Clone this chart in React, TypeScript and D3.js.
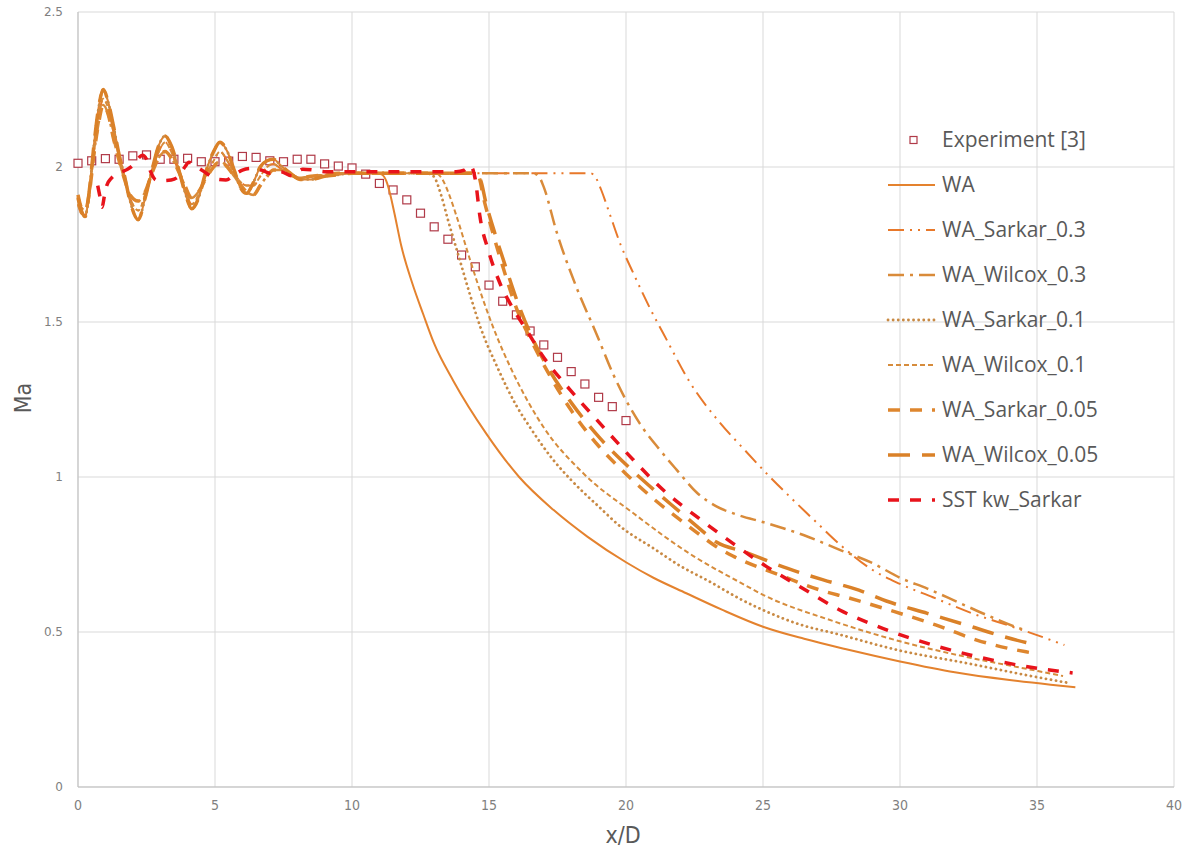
import React from "react";
import * as d3 from "d3";

// ---------- DATA ----------
const xTicks = [0, 5, 10, 15, 20, 25, 30, 35, 40];
const yTicks = [0, 0.5, 1, 1.5, 2, 2.5];

const expX = [0, 0.5, 1, 1.5, 2, 2.5, 3, 3.5, 4, 4.5, 5, 5.5, 6, 6.5, 7, 7.5, 8, 8.5, 9, 9.5, 10, 10.5, 11, 11.5, 12, 12.5, 13, 13.5, 14, 14.5, 15, 15.5, 16, 16.5, 17, 17.5, 18, 18.5, 19, 19.5, 20];
const expY = [2.012, 2.02, 2.027, 2.025, 2.036, 2.039, 2.025, 2.025, 2.028, 2.017, 2.017, 2.019, 2.034, 2.031, 2.02, 2.017, 2.025, 2.025, 2.01, 2.003, 1.997, 1.977, 1.947, 1.926, 1.894, 1.851, 1.807, 1.767, 1.716, 1.678, 1.619, 1.567, 1.523, 1.471, 1.426, 1.386, 1.34, 1.3, 1.257, 1.227, 1.182];

// near-field (shock cell) part shared by the WA family, three amplitude variants
const nearX = [0, 0.12, 0.26, 0.42, 0.58, 0.75, 0.92, 1.1, 1.3, 1.5, 1.7, 1.9, 2.2, 2.45, 2.7, 2.95, 3.18, 3.4, 3.65, 3.9, 4.15, 4.4, 4.65, 4.95, 5.18, 5.45, 5.7, 5.95, 6.15, 6.4, 6.65, 6.9, 7.13, 7.4, 7.75, 8.1, 8.5, 9.0, 9.5, 10.0];
const nearA = [1.9, 1.86, 1.84, 1.93, 2.07, 2.19, 2.25, 2.21, 2.13, 2.04, 1.97, 1.89, 1.83, 1.9, 1.99, 2.07, 2.1, 2.07, 2.0, 1.92, 1.865, 1.9, 1.98, 2.05, 2.08, 2.05, 1.99, 1.93, 1.915, 1.95, 2.0, 2.02, 2.025, 2.005, 1.98, 1.96, 1.96, 1.97, 1.975, 1.98];
const nearB = [1.88, 1.85, 1.845, 1.92, 2.05, 2.16, 2.22, 2.19, 2.11, 2.03, 1.96, 1.9, 1.86, 1.91, 1.99, 2.05, 2.08, 2.05, 1.99, 1.93, 1.88, 1.91, 1.97, 2.02, 2.05, 2.02, 1.98, 1.95, 1.94, 1.94, 1.97, 2.0, 2.01, 1.995, 1.975, 1.965, 1.97, 1.975, 1.98, 1.98];
const nearC = [1.91, 1.87, 1.86, 1.92, 2.04, 2.14, 2.2, 2.17, 2.09, 2.02, 1.96, 1.91, 1.89, 1.92, 1.98, 2.03, 2.05, 2.03, 1.99, 1.94, 1.9, 1.92, 1.96, 2.0, 2.02, 2.0, 1.97, 1.94, 1.92, 1.91, 1.94, 1.97, 1.99, 1.99, 1.975, 1.965, 1.97, 1.975, 1.98, 1.98];

const waX = [10.5, 10.9, 11.1, 11.25, 11.4, 11.55, 11.8, 12.2, 12.6, 13.0, 13.7, 14.9, 16.1, 17.35, 18.6, 20.0, 21.0, 22.2, 23.5, 25.0, 26.5, 28.0, 30.0, 32.0, 34.0, 35.5, 36.4];
const waY = [1.98, 1.98, 1.975, 1.955, 1.91, 1.85, 1.745, 1.625, 1.525, 1.43, 1.31, 1.14, 1.0, 0.894, 0.807, 0.725, 0.675, 0.625, 0.572, 0.517, 0.478, 0.445, 0.405, 0.37, 0.345, 0.33, 0.322];

const sarkar03X = [11, 12, 13, 14, 15, 16, 17, 18, 18.7, 18.9, 19.1, 19.4, 19.8, 20.27, 20.9, 21.5, 22.3, 23.4, 24.3, 25.2, 26.1, 26.9, 27.9, 29.0, 30.0, 31.2, 32.7, 34.0, 35.0, 36.0];
const sarkar03Y = [1.98, 1.98, 1.98, 1.98, 1.98, 1.98, 1.98, 1.98, 1.98, 1.965, 1.925, 1.85, 1.75, 1.657, 1.54, 1.44, 1.31, 1.178, 1.09, 1.005, 0.926, 0.858, 0.775, 0.7, 0.655, 0.612, 0.558, 0.52, 0.49, 0.458];

const wilcox03X = [11, 12, 13, 14, 15, 16, 16.6, 16.85, 17.0, 17.47, 18.2, 18.93, 19.54, 20.5, 21.24, 21.85, 22.58, 23.3, 24.0, 25.1, 26.5, 27.8, 29.0, 30.0, 31.0, 32.07, 33.16, 34.26, 34.6];
const wilcox03Y = [1.98, 1.98, 1.98, 1.98, 1.98, 1.98, 1.98, 1.965, 1.935, 1.79, 1.61, 1.46, 1.33, 1.173, 1.087, 1.023, 0.95, 0.905, 0.88, 0.852, 0.812, 0.765, 0.722, 0.675, 0.64, 0.598, 0.555, 0.515, 0.505];

const sarkar01X = [10.5, 11.5, 12.5, 12.85, 13.05, 13.25, 13.5, 13.9, 14.3, 14.7, 15.3, 16.0, 16.5, 17.3, 18.0, 19.0, 19.8, 21.0, 22.0, 23.0, 24.2, 25.0, 26.5, 27.6, 30.0, 32.4, 34.9, 36.2];
const sarkar01Y = [1.98, 1.98, 1.98, 1.978, 1.96, 1.91, 1.83, 1.71, 1.59, 1.48, 1.355, 1.23, 1.16, 1.06, 0.99, 0.905, 0.84, 0.77, 0.712, 0.665, 0.605, 0.571, 0.52, 0.496, 0.44, 0.4, 0.356, 0.335];

const wilcox01X = [10.5, 11.5, 12.5, 13.1, 13.3, 13.55, 13.82, 14.31, 14.85, 15.3, 15.77, 16.98, 18.44, 20.27, 22.46, 24.16, 25.0, 27.57, 30.0, 32.4, 34.86, 35.95];
const wilcox01Y = [1.98, 1.98, 1.98, 1.978, 1.96, 1.91, 1.84, 1.7, 1.555, 1.45, 1.356, 1.162, 1.012, 0.883, 0.745, 0.66, 0.62, 0.535, 0.47, 0.42, 0.377, 0.358];

const sarkar005X = [10.5, 11.5, 12.5, 13.5, 14.4, 14.62, 14.8, 15.1, 15.5, 16.0, 16.6, 17.2, 18.0, 19.0, 20.0, 21.0, 22.0, 22.6, 23.3, 23.9, 25.6, 27.2, 28.05, 29.6, 31.3, 32.8, 34.6, 35.0];
const sarkar005Y = [1.98, 1.98, 1.98, 1.98, 1.98, 1.97, 1.9, 1.8, 1.68, 1.545, 1.43, 1.33, 1.215, 1.1, 1.01, 0.93, 0.86, 0.82, 0.775, 0.745, 0.684, 0.632, 0.612, 0.571, 0.523, 0.474, 0.436, 0.43];

const wilcox005X = [10.5, 11.5, 12.5, 13.5, 14.45, 14.68, 14.9, 15.2, 15.6, 16.1, 16.6, 17.2, 18.0, 19.0, 20.0, 21.0, 22.0, 22.6, 23.3, 24.3, 25.9, 27.2, 28.5, 29.5, 31.0, 32.4, 33.6, 34.6, 34.9];
const wilcox005Y = [1.98, 1.98, 1.98, 1.98, 1.98, 1.96, 1.88, 1.79, 1.68, 1.55, 1.445, 1.345, 1.24, 1.13, 1.04, 0.96, 0.885, 0.84, 0.79, 0.759, 0.705, 0.668, 0.635, 0.6, 0.56, 0.523, 0.49, 0.466, 0.46];

const sstX = [0.72, 0.8, 0.88, 0.96, 1.05, 1.23, 1.5, 1.75, 2.0, 2.2, 2.35, 2.5, 2.65, 2.85, 3.1, 3.4, 3.65, 3.9, 4.05, 4.3, 4.6, 4.85, 5.1, 5.4, 5.7, 6.0, 6.3, 6.7, 7.0, 7.4, 7.8, 8.2, 8.6, 9.0, 9.5, 10, 11, 12, 13, 13.8, 14.1, 14.3, 14.42, 14.5, 14.67, 14.98, 15.4, 15.9, 16.37, 16.98, 17.96, 19.05, 20.27, 21.36, 22.58, 23.9, 25.13, 26.35, 27.8, 29.39, 30.97, 32.55, 34.26, 36.3];
const sstY = [1.94, 1.905, 1.87, 1.905, 1.94, 1.965, 1.98, 1.99, 2.005, 2.028, 2.038, 2.025, 1.985, 1.958, 1.956, 1.958, 1.968, 2.0, 2.015, 2.002, 1.985, 1.97, 1.96, 1.958, 1.975, 1.99, 1.995, 1.99, 1.98, 1.985, 1.972, 1.993, 1.99, 1.985, 1.985, 1.985, 1.985, 1.985, 1.985, 1.985, 1.99, 2.005, 1.99, 1.96, 1.84, 1.73, 1.625, 1.54, 1.474, 1.388, 1.281, 1.173, 1.055, 0.958, 0.872, 0.786, 0.711, 0.646, 0.571, 0.511, 0.464, 0.426, 0.394, 0.368];

const seriesNames = ["WA", "WA_Sarkar_0.3", "WA_Wilcox_0.3", "WA_Sarkar_0.1", "WA_Wilcox_0.1", "WA_Sarkar_0.05", "WA_Wilcox_0.05", "SST kw_Sarkar"];

// ---------- STYLES ----------
type Style = { color: string; width: number; dash: string; cap: "butt" | "round" };
const styles: Style[] = [
  { color: "#E4822E", width: 2, dash: "none", cap: "butt" },
  { color: "#E8782A", width: 2, dash: "16 6 2 6 2 6", cap: "butt" },
  { color: "#D98B3A", width: 2.5, dash: "16 6 3 6", cap: "butt" },
  { color: "#C98A44", width: 2.8, dash: "0.1 5", cap: "round" },
  { color: "#D68C3C", width: 2, dash: "5 3", cap: "butt" },
  { color: "#DE862E", width: 3.5, dash: "12 10", cap: "butt" },
  { color: "#DA8128", width: 3.5, dash: "22 12", cap: "butt" },
  { color: "#E8131B", width: 3.5, dash: "11 11", cap: "butt" },
];

const W = 1189;
const H = 856;

export default function App() {
  const x = d3.scaleLinear().domain([0, 40]).range([78, 1174]);
  const y = d3.scaleLinear().domain([0, 2.5]).range([787, 12]);

  const zip = (xs: number[], ys: number[]) => xs.map((v, i) => [v, ys[i]] as [number, number]);
  const seriesData: [number, number][][] = [
    [...zip(nearX, nearA), ...zip(waX, waY)],
    [...zip(nearX, nearB), ...zip(sarkar03X, sarkar03Y)],
    [...zip(nearX, nearC), ...zip(wilcox03X, wilcox03Y)],
    [...zip(nearX, nearA), ...zip(sarkar01X, sarkar01Y)],
    [...zip(nearX, nearB), ...zip(wilcox01X, wilcox01Y)],
    [...zip(nearX, nearC), ...zip(sarkar005X, sarkar005Y)],
    [...zip(nearX, nearA), ...zip(wilcox005X, wilcox005Y)],
    zip(sstX, sstY),
  ];

  const line = d3
    .line<[number, number]>()
    .x((d) => x(d[0]))
    .y((d) => y(d[1]))
    .curve(d3.curveMonotoneX);

  const legX = 888;
  const legTextX = 942;
  const legY0 = 140;
  const legDy = 45;

  const narrow = "'Liberation Sans Narrow', 'DejaVu Sans Condensed', 'Open Sans', sans-serif";

  return (
    <svg width={W} height={H} style={{ position: "absolute", left: 0, top: 0, background: "#fff" }}>
      <rect x={0} y={0} width={W} height={H} fill="#fff" />
      {/* grid */}
      {xTicks.map((t) => (
        <line key={"gx" + t} x1={x(t)} x2={x(t)} y1={y(2.5)} y2={y(0)} stroke="#D9D9D9" strokeWidth={1} />
      ))}
      {yTicks.map((t) => (
        <line key={"gy" + t} x1={x(0)} x2={x(40)} y1={y(t)} y2={y(t)} stroke="#D9D9D9" strokeWidth={1} />
      ))}
      {/* axes */}
      <line x1={x(0)} x2={x(0)} y1={y(2.5)} y2={y(0)} stroke="#BFBFBF" strokeWidth={1} />
      <line x1={x(0)} x2={x(40)} y1={y(0)} y2={y(0)} stroke="#BFBFBF" strokeWidth={1} />

      {/* tick labels */}
      {yTicks.map((t) => (
        <text key={"ty" + t} x={63} y={y(t) + 4} textAnchor="end" fontSize={12} fill="#7F7F7F" fontFamily="'DejaVu Sans', sans-serif">
          {String(t)}
        </text>
      ))}
      {xTicks.map((t) => (
        <text key={"tx" + t} x={x(t)} y={810} textAnchor="middle" fontSize={14} fill="#7F7F7F" fontFamily={narrow} style={{ fontStretch: "condensed" }}>
          {String(t)}
        </text>
      ))}
      <text x={623} y={843} textAnchor="middle" fontSize={23} fill="#595959" fontFamily={narrow} style={{ fontStretch: "condensed" }}>
        x/D
      </text>
      <text transform={`translate(31,398) rotate(-90)`} textAnchor="middle" fontSize={23} fill="#595959" fontFamily={narrow} style={{ fontStretch: "condensed" }}>
        Ma
      </text>

      {/* experiment markers */}
      {expX.map((v, i) => (
        <rect key={"e" + i} x={x(v) - 4} y={y(expY[i]) - 4} width={8} height={8} fill="#fff" stroke="#B03A48" strokeWidth={1.2} />
      ))}

      {/* lines */}
      {seriesData.map((d, i) => (
        <path
          key={"s" + i}
          d={line(d) || ""}
          fill="none"
          stroke={styles[i].color}
          strokeWidth={styles[i].width}
          strokeDasharray={styles[i].dash}
          strokeLinecap={styles[i].cap}
          strokeLinejoin="round"
        />
      ))}

      {/* legend */}
      <rect x={legX + 22} y={legY0 - 3.5} width={7} height={7} fill="#fff" stroke="#B03A48" strokeWidth={1.2} />
      <text x={legTextX} y={legY0 + 7} fontSize={21} fill="#595959" fontFamily="'Open Sans', sans-serif">
        Experiment [3]
      </text>
      {seriesNames.map((n, i) => {
        const ly = legY0 + legDy * (i + 1);
        return (
          <g key={"l" + i}>
            <line
              x1={legX}
              x2={legX + 47}
              y1={ly}
              y2={ly}
              stroke={styles[i].color}
              strokeWidth={styles[i].width}
              strokeDasharray={styles[i].dash}
              strokeLinecap={styles[i].cap}
            />
            <text x={legTextX} y={ly + 7} fontSize={21} fill="#595959" fontFamily="'Open Sans', sans-serif">
              {n}
            </text>
          </g>
        );
      })}
    </svg>
  );
}
